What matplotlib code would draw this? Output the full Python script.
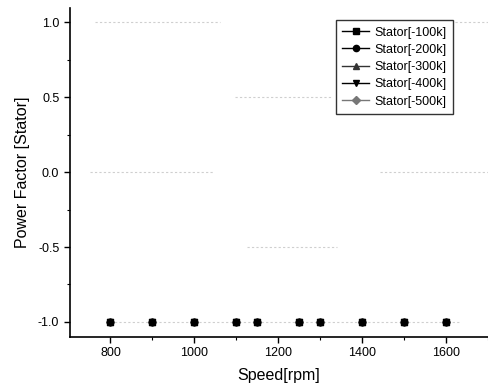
import numpy as np
import matplotlib.pyplot as plt
from matplotlib.lines import Line2D
from matplotlib.ticker import MultipleLocator

plt.rcParams['font.family'] = ['Liberation Sans', 'DejaVu Sans']
plt.rcParams['axes.unicode_minus'] = False

# 主数据：五条曲线全部重合在 -1.0
speed = [800, 900, 1000, 1100, 1150, 1250, 1300, 1400, 1500, 1600]
pf = {
    "Stator[-100k]": [-1.0] * 10,
    "Stator[-200k]": [-1.0] * 10,
    "Stator[-300k]": [-1.0] * 10,
    "Stator[-400k]": [-1.0] * 10,
    "Stator[-500k]": [-1.0] * 10,
}
markers = ['s', 'o', '^', 'v', 'D']
mcolors = ['black', 'black', '#333333', 'black', '#777777']

# 扫描图里残留的淡线段 (x起点, x终点, y)
ghost_x0 = [762, 1622, 1097, 751, 1442, 1125, 800]
ghost_x1 = [1061, 1700, 1329, 1044, 1700, 1340, 1633]
ghost_y = [1.0, 1.0, 0.5, 0.0, 0.0, -0.5, -1.0]

fig = plt.figure(figsize=(4.88, 3.89), dpi=100)
ax = fig.add_axes([0.143, 0.134, 0.857, 0.845])

for x0, x1, y in zip(ghost_x0, ghost_x1, ghost_y):
    ax.plot([x0, x1], [y, y], color='#cfcfcf', lw=0.8, ls=(0, (2, 2)))

# 反向画，让方块在最上层
items = list(zip(pf.items(), markers, mcolors))
for (name, vals), m, c in items[::-1]:
    ax.plot(speed, vals, ls='none', marker=m, ms=4.5, color=c,
            mfc=c, mec=c, label=name)

ax.set_xlim(703, 1700)
ax.set_ylim(-1.10, 1.095)
ax.xaxis.set_major_locator(MultipleLocator(200))
ax.xaxis.set_minor_locator(MultipleLocator(100))
ax.yaxis.set_major_locator(MultipleLocator(0.5))
ax.yaxis.set_minor_locator(MultipleLocator(0.25))
ax.tick_params(which='major', direction='out', length=4, width=1, labelsize=9)
ax.tick_params(which='minor', direction='out', length=2, width=0.8)
ax.spines['top'].set_visible(False)
ax.spines['right'].set_visible(False)
ax.spines['left'].set_linewidth(1.2)
ax.spines['bottom'].set_linewidth(1.2)

ax.set_xlabel("Speed[rpm]", fontsize=11.5, labelpad=6)
ax.set_ylabel("Power Factor [Stator]", fontsize=11.5, labelpad=6)

handles = []
for name, m, c in zip(pf.keys(), markers, mcolors):
    handles.append(Line2D([], [], color=c, lw=1, marker=m, ms=4.5, mfc=c, mec=c))
leg = ax.legend(handles, list(pf.keys()), loc='upper right',
                bbox_to_anchor=(0.916, 0.963), borderaxespad=0,
                fontsize=9, fancybox=False, edgecolor='black',
                handlelength=2.2, handletextpad=0.4, labelspacing=0.42,
                borderpad=0.5)
leg.get_frame().set_linewidth(1.0)

fig.savefig("out.png", dpi=100)
